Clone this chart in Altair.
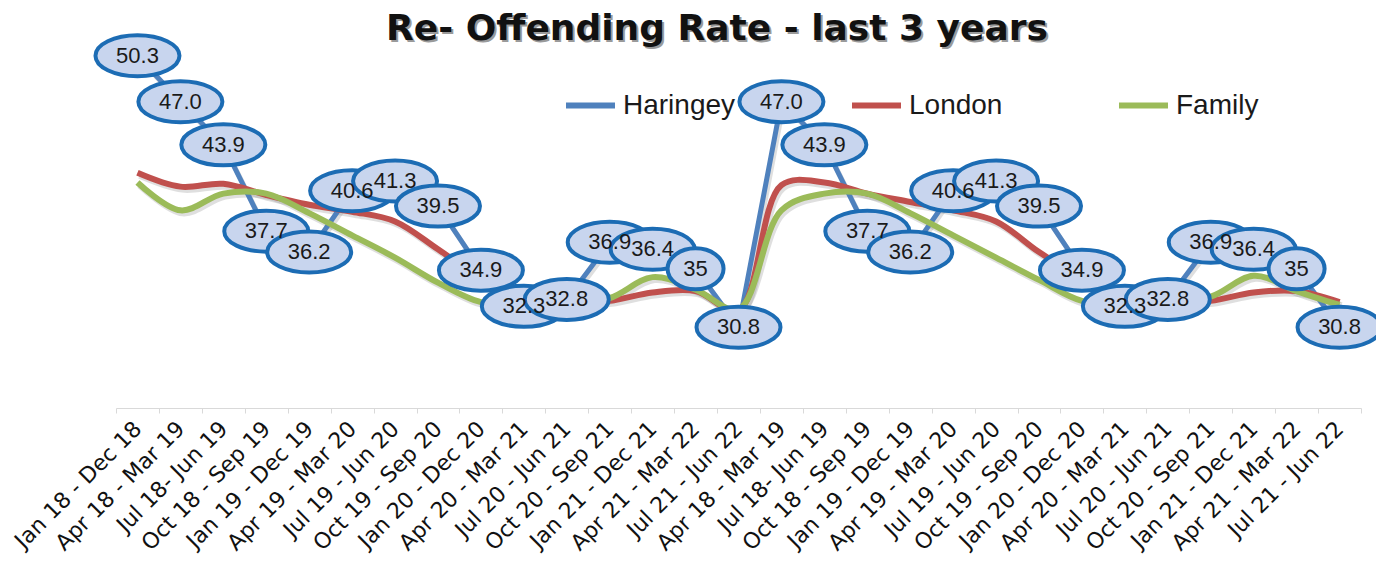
import altair as alt
import pandas as pd

title_text = "Re- Offending Rate -  last 3 years"

periods = [
    "Jan 18 - Dec 18", "Apr 18 - Mar 19", "Jul 18- Jun 19", "Oct 18 - Sep 19",
    "Jan 19 - Dec 19", "Apr 19 - Mar 20", "Jul 19 - Jun 20", "Oct 19 - Sep 20",
    "Jan 20 - Dec 20", "Apr 20 - Mar 21", "Jul 20 - Jun 21", "Oct 20 - Sep 21",
    "Jan 21 - Dec 21", "Apr 21 - Mar 22", "Jul 21 - Jun 22",
    "Apr 18 - Mar 19", "Jul 18- Jun 19", "Oct 18 - Sep 19",
    "Jan 19 - Dec 19", "Apr 19 - Mar 20", "Jul 19 - Jun 20", "Oct 19 - Sep 20",
    "Jan 20 - Dec 20", "Apr 20 - Mar 21", "Jul 20 - Jun 21", "Oct 20 - Sep 21",
    "Jan 21 - Dec 21", "Apr 21 - Mar 22", "Jul 21 - Jun 22",
]

haringey = [50.3, 47.0, 43.9, 37.7, 36.2, 40.6, 41.3, 39.5, 34.9, 32.3, 32.8, 36.9, 36.4, 35.0, 30.8,
            47.0, 43.9, 37.7, 36.2, 40.6, 41.3, 39.5, 34.9, 32.3, 32.8, 36.9, 36.4, 35.0, 30.8]
haringey_labels = ["50.3", "47.0", "43.9", "37.7", "36.2", "40.6", "41.3", "39.5", "34.9", "32.3",
                   "32.8", "36.9", "36.4", "35", "30.8",
                   "47.0", "43.9", "37.7", "36.2", "40.6", "41.3", "39.5", "34.9", "32.3",
                   "32.8", "36.9", "36.4", "35", "30.8"]
london = [41.9, 40.9, 41.1, 40.3, 39.6, 39.1, 38.4, 36.4, 34.3, 32.8, 32.6, 32.7, 33.3, 33.4, 32.0,
          41.0, 41.2, 40.4, 39.8, 39.2, 38.4, 36.2, 34.3, 32.8, 32.6, 32.7, 33.3, 33.4, 32.6]
family = [41.2, 39.2, 40.4, 40.4, 39.0, 37.4, 35.8, 34.0, 32.6, 32.4, 32.6, 32.9, 34.4, 33.5, 32.1,
          39.2, 40.4, 40.4, 39.0, 37.4, 35.8, 34.2, 32.7, 32.5, 32.7, 33.0, 34.5, 33.4, 32.4]

series_names = ["Haringey", "London", "Family"]
series_colors = ["#4f81bd", "#c0504d", "#9bbb59"]

idx = list(range(len(periods)))
rows = []
for name, vals in zip(series_names, [haringey, london, family]):
    for i, v in zip(idx, vals):
        rows.append({"idx": i, "series": name, "value": v})
df = pd.DataFrame(rows)
df_lab = pd.DataFrame({"idx": idx, "value": haringey, "label": haringey_labels})

label_expr = "[" + ",".join("'" + p + "'" for p in periods) + "][datum.value]"

x_enc = alt.X(
    "idx:O",
    bandPosition=0.5,
    scale=alt.Scale(type="band", paddingInner=0, paddingOuter=0, domain=idx),
    axis=alt.Axis(
        title=None, labelExpr=label_expr, labelAngle=315, labelAlign="right",
        labelBaseline="middle", labelFont="DejaVu Sans", labelFontSize=22,
        labelColor="#111111", labelPadding=12, tickBand="extent", tickSize=5,
        tickColor="#d9d9d9", domainColor="#d9d9d9", grid=False, labelOverlap=False,
    ),
)
y_enc = alt.Y("value:Q", scale=alt.Scale(domain=[25, 51], nice=False, zero=False), axis=None)

color_enc = alt.Color(
    "series:N",
    scale=alt.Scale(domain=series_names, range=series_colors),
    legend=alt.Legend(
        orient="none", legendX=447, legendY=32, direction="horizontal", columns=3,
        title=None, symbolType="stroke", symbolSize=2400, symbolStrokeWidth=6,
        labelFont="Liberation Sans", labelFontSize=28,
        labelColor="#1a1a1a", labelOffset=5, columnPadding=104, gridAlign="none",
        padding=0, labelLimit=300,
    ),
)

base = alt.Chart(df)

har = base.transform_filter("datum.series == 'Haringey'")
smooth = base.transform_filter("datum.series != 'Haringey'")

har_shadow = har.mark_line(strokeWidth=5, color="#7f7f7f", opacity=0.25, xOffset=2, yOffset=3).encode(
    x=x_enc, y=y_enc, detail="series:N")
smooth_shadow = smooth.mark_line(strokeWidth=6, color="#7f7f7f", opacity=0.25, xOffset=2, yOffset=3,
                                 interpolate="catmull-rom").encode(x=x_enc, y=y_enc, detail="series:N")
har_line = har.mark_line(strokeWidth=5).encode(x=x_enc, y=y_enc, color=color_enc)
smooth_line = smooth.mark_line(strokeWidth=6, interpolate="catmull-rom").encode(
    x=x_enc, y=y_enc, color=color_enc,
    order=alt.Order("idx:Q"))

PATH_LONG = "M-1,0A1,0.488,0,1,1,1,0A1,0.488,0,1,1,-1,0Z"
PATH_SHORT = "M-1,0A1,0.732,0,1,1,1,0A1,0.732,0,1,1,-1,0Z"

lab = alt.Chart(df_lab)
ell_long = lab.transform_filter("length(datum.label) > 2").mark_point(
    shape=PATH_LONG, size=84 * 84, filled=True, fill="#c8d5ee", stroke="#1c6cb4",
    strokeWidth=4, opacity=1, fillOpacity=1, strokeOpacity=1).encode(x=x_enc, y=y_enc)
ell_short = lab.transform_filter("length(datum.label) <= 2").mark_point(
    shape=PATH_SHORT, size=56 * 56, filled=True, fill="#c8d5ee", stroke="#1c6cb4",
    strokeWidth=4, opacity=1, fillOpacity=1, strokeOpacity=1).encode(x=x_enc, y=y_enc)
lab_text = lab.mark_text(font="Liberation Sans", fontSize=22, color="#1a1a1a",
                         align="center", baseline="middle").encode(x=x_enc, y=y_enc, text="label:N")

tdf = pd.DataFrame({"t": [title_text]})
title_shadow = alt.Chart(tdf).mark_text(font="DejaVu Sans", fontSize=36, fontWeight="bold",
                                        color="#9a9a9a", align="center", baseline="middle").encode(
    text="t:N", x=alt.value(603), y=alt.value(-15))
title_main = alt.Chart(tdf).mark_text(font="DejaVu Sans", fontSize=36, fontWeight="bold",
                                      color="#111111", align="center", baseline="middle").encode(
    text="t:N", x=alt.value(601), y=alt.value(-17))

chart = alt.layer(
    har_shadow, smooth_shadow, har_line, smooth_line, ell_long, ell_short, lab_text,
    title_shadow, title_main,
).properties(
    width=1245, height=362,
    autosize=alt.AutoSizeParams(type="none"),
    padding={"left": 108, "top": 38, "right": 15, "bottom": 156},
).configure_view(stroke=None)

chart.save("out.html", embed_options={"renderer": "svg", "actions": False})
